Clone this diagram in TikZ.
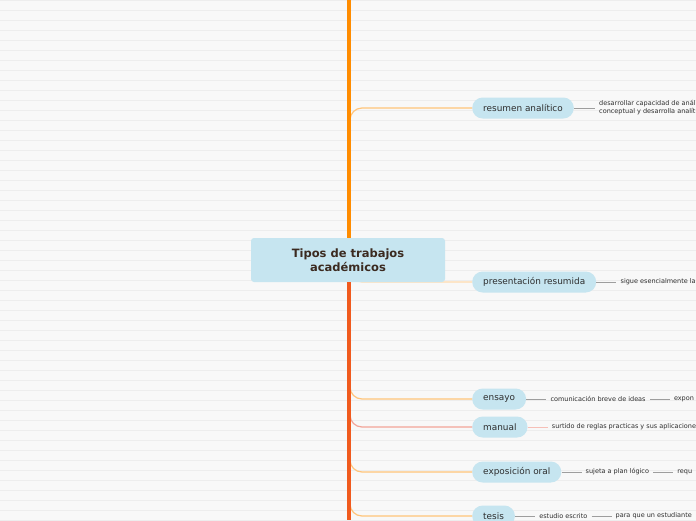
\documentclass[tikz,border=0pt]{standalone}
\usepackage{fontspec}
\setmainfont{DejaVu Sans}
\usepackage{tikz}
\usetikzlibrary{positioning, calc}
\definecolor{paper}{HTML}{F8F8F8}
\definecolor{rule}{HTML}{EDEDED}
\definecolor{trunktop}{HTML}{FF8C00}
\definecolor{trunkbot}{HTML}{F05A1E}
\definecolor{bubble}{HTML}{C6E5F0}
\definecolor{ink}{HTML}{3B2A20}
\definecolor{text}{HTML}{2E2E2E}
\definecolor{linkor}{HTML}{FFC47A}
\definecolor{linkred}{HTML}{F2A498}
\definecolor{muted}{HTML}{9E9E9E}

\begin{document}
\begin{tikzpicture}[x=1pt, y=-1pt,
      hub/.style={fill=bubble, rounded corners=3pt, minimum width=194pt,
        minimum height=44pt, align=center, text=ink,
        font=\fontsize{11.5}{14}\selectfont\bfseries},
      topic/.style={fill=bubble, rounded corners=10.5pt, minimum height=21pt,
        inner xsep=11pt, anchor=west, text=text,
        font=\fontsize{8.9}{10}\selectfont},
      leaf/.style={inner xsep=4pt, inner ysep=1pt, text=text, align=left,
        font=\fontsize{6.5}{8}\selectfont},
      link/.style={line width=1.2pt, rounded corners=12pt, color=linkor},
      twig/.style={line width=0.9pt, color=muted},
      trunk/.style={line width=4pt}]

    \useasboundingbox (0,0) rectangle (696,520);
    \clip (0,0) rectangle (696,520);

    % ruled paper
    \fill[paper] (0,0) rectangle (696,520);
    \foreach \y in {0,10,...,520}
      \draw[rule, line width=1pt] (0,\y+0.5) -- (696,\y+0.5);

    % branches
    \node[topic] (res) at (472,108) {resumen analítico};
    \node[topic] (pres) at (472,282) {presentación resumida};
    \node[topic] (ens) at (472,399) {ensayo};
    \node[topic] (man) at (472,427) {manual};
    \node[topic] (expo) at (472,472) {exposición oral};
    \node[topic] (tes) at (472,516) {tesis};

    \coordinate (top) at (348.5,0);
    \coordinate (bot) at (348.5,520);
    \coordinate (rs) at (350,124);
    \coordinate (ps) at (350,268);
    \coordinate (es) at (350,384);
    \coordinate (ms) at (350,412);
    \coordinate (xs) at (350,457);
    \coordinate (ts) at (350,501);

    \draw[link] (rs) |- (res.west);
    \draw[link, linkor!60] (ps) |- (pres.west);
    \draw[link] (es) |- (ens.west);
    \draw[link, linkred] (ms) |- (man.west);
    \draw[link] (xs) |- (expo.west);
    \draw[link] (ts) |- (tes.west);

    % trunk and centre
    \node[hub] (hub) at (348,260) {Tipos de trabajos\\académicos};
    \draw[trunk, trunktop] (top) -- (hub.north -| top);
    \draw[trunk, trunkbot] (hub.south -| bot) -- (bot);

    % leaves
    \node[leaf, right=21pt of res] (res1)
      {desarrollar capacidad de análi\\conceptual y desarrolla analít};
    \draw[twig] (res) -- (res1);

    \node[leaf, right=20pt of pres] (pres1) {sigue esencialmente la};
    \draw[twig] (pres) -- (pres1);

    \node[leaf, right=20pt of ens] (ens1) {comunicación breve de ideas};
    \node[leaf, right=20pt of ens1] (ens2) {expon};
    \draw[twig] (ens) -- (ens1);
    \draw[twig] (ens1) -- (ens2);

    \node[leaf, right=20pt of man] (man1)
      {surtido de reglas practicas y sus aplicacione};
    \draw[twig, linkred!70] (man) -- (man1);

    \node[leaf, right=20pt of expo] (expo1) {sujeta a plan lógico};
    \node[leaf, right=20pt of expo1] (expo2) {requ};
    \draw[twig] (expo) -- (expo1);
    \draw[twig] (expo1) -- (expo2);

    \node[leaf, right=20pt of tes] (tes1) {estudio escrito};
    \node[leaf, right=20pt of tes1] (tes2) {para que un estudiante};
    \draw[twig] (tes) -- (tes1);
    \draw[twig] (tes1) -- (tes2);
  \end{tikzpicture}
\end{document}
